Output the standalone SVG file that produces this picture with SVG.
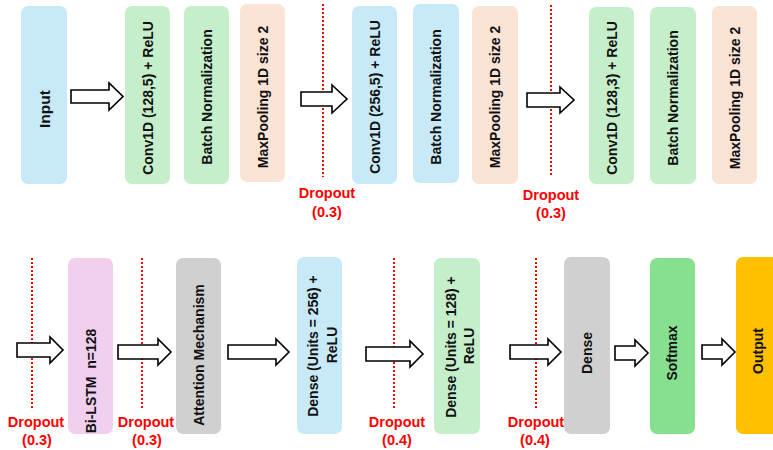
<svg xmlns="http://www.w3.org/2000/svg" width="773" height="450" viewBox="0 0 773 450">
<style>
.box{stroke:none}
.blue{fill:#C8EAF8}
.green{fill:#C5EFCB}
.peach{fill:#FBE3D6}
.pink{fill:#F1CFEF}
.gray{fill:#D0D0D0}
.soft{fill:#87E08F}
.out{fill:#FFC000}
.lbl{font-family:"Liberation Sans",Arial,sans-serif;font-weight:bold;font-size:14px;fill:#111;text-anchor:middle;dominant-baseline:central}
.drop{font-family:"Liberation Sans",Arial,sans-serif;font-weight:bold;font-size:14.5px;fill:#FF0000;text-anchor:middle;dominant-baseline:central}
.dl{stroke:#FF0000;stroke-width:2;stroke-dasharray:2 2;fill:none}
.arr{fill:#fff;stroke:#000;stroke-width:1.6;stroke-linejoin:miter}
</style>
<rect width="773" height="450" fill="#fff"/>

<g id="dropouts">
<line class="dl" x1="323" y1="4" x2="323" y2="177"/>
<text class="drop" x="327" y="193">Dropout</text><text class="drop" x="327" y="212">(0.3)</text>
<line class="dl" x1="551" y1="5" x2="551" y2="177"/>
<text class="drop" x="551" y="195">Dropout</text><text class="drop" x="551" y="213">(0.3)</text>
<line class="dl" x1="32" y1="258" x2="32" y2="408"/>
<text class="drop" x="36" y="422">Dropout</text><text class="drop" x="37" y="440">(0.3)</text>
<line class="dl" x1="142" y1="258" x2="142" y2="408"/>
<text class="drop" x="146" y="422">Dropout</text><text class="drop" x="147" y="440">(0.3)</text>
<line class="dl" x1="394" y1="258" x2="394" y2="408"/>
<text class="drop" x="397" y="422">Dropout</text><text class="drop" x="397" y="440">(0.4)</text>
<line class="dl" x1="536" y1="258" x2="536" y2="408"/>
<text class="drop" x="536" y="422">Dropout</text><text class="drop" x="535" y="440">(0.4)</text>
</g>

<g id="connectors">
<path class="arr" d="M71,90 H109 V83 L123,96.5 L109,110 V103 H71 Z"/>
<path class="arr" d="M301,92 H332 V85 L347,99 L332,113 V106 H301 Z"/>
<path class="arr" d="M527,93 H560 V87 L574,100 L560,113 V107 H527 Z"/>
<path class="arr" d="M17,343 H50 V337 L63,350 L50,363 V357 H17 Z"/>
<path class="arr" d="M118,345 H158 V339 L171,352 L158,365 V359 H118 Z"/>
<path class="arr" d="M228,345 H276 V339 L289,352 L276,365 V359 H228 Z"/>
<path class="arr" d="M366,347 H410 V341 L423,354 L410,367 V361 H366 Z"/>
<path class="arr" d="M510,345 H548 V339 L561,352 L548,365 V359 H510 Z"/>
<path class="arr" d="M615,346 H635 V340 L648,353 L635,366 V360 H615 Z"/>
<path class="arr" d="M702,345 H722 V339 L735,352 L722,365 V359 H702 Z"/>
</g>

<g id="input"><rect class="box blue" x="21" y="6" width="46" height="178" rx="7"/>
<text class="lbl" style="font-size:15.5px" transform="translate(44,109) rotate(-90)">Input</text></g>
<g id="conv1"><rect class="box green" x="125" y="6" width="45" height="178" rx="7"/>
<text class="lbl" transform="translate(148,98) rotate(-90)">Conv1D (128,5) + ReLU</text></g>
<g id="bn1"><rect class="box green" x="184" y="6" width="45" height="178" rx="7"/>
<text class="lbl" transform="translate(207,97) rotate(-90)">Batch Normalization</text></g>
<g id="mp1"><rect class="box peach" x="240" y="4" width="45" height="178" rx="7"/>
<text class="lbl" transform="translate(263,97) rotate(-90)">MaxPooling 1D size 2</text></g>
<g id="conv2"><rect class="box blue" x="352" y="6" width="45" height="178" rx="7"/>
<text class="lbl" transform="translate(375,97) rotate(-90)">Conv1D (256,5) + ReLU</text></g>
<g id="bn2"><rect class="box blue" x="413" y="4" width="46" height="179" rx="7"/>
<text class="lbl" transform="translate(436,97) rotate(-90)">Batch Normalization</text></g>
<g id="mp2"><rect class="box peach" x="472" y="6" width="46" height="178" rx="7"/>
<text class="lbl" transform="translate(495,97) rotate(-90)">MaxPooling 1D size 2</text></g>
<g id="conv3"><rect class="box green" x="589" y="7" width="45" height="177" rx="7"/>
<text class="lbl" transform="translate(612,98) rotate(-90)">Conv1D (128,3) + ReLU</text></g>
<g id="bn3"><rect class="box green" x="650" y="7" width="46" height="177" rx="7"/>
<text class="lbl" transform="translate(673,98) rotate(-90)">Batch Normalization</text></g>
<g id="mp3"><rect class="box peach" x="712" y="6" width="45" height="178" rx="7"/>
<text class="lbl" transform="translate(735,98) rotate(-90)">MaxPooling 1D size 2</text></g>

<g id="bilstm"><rect class="box pink" x="68" y="258" width="45" height="176" rx="7"/>
<text class="lbl" transform="translate(91,381) rotate(-90)" xml:space="preserve">Bi-LSTM  n=128</text></g>
<g id="attention"><rect class="box gray" x="176" y="258" width="45" height="176" rx="7"/>
<text class="lbl" transform="translate(199,355) rotate(-90)">Attention Mechanism</text></g>
<g id="dense256"><rect class="box blue" x="297" y="257" width="45" height="177" rx="7"/>
<text class="lbl" transform="translate(313,346) rotate(-90)">Dense (Units = 256) +</text>
<text class="lbl" transform="translate(332,345) rotate(-90)">ReLU</text></g>
<g id="dense128"><rect class="box green" x="434" y="258" width="46" height="176" rx="7"/>
<text class="lbl" transform="translate(451,347) rotate(-90)">Dense (Units = 128) +</text>
<text class="lbl" transform="translate(469,346) rotate(-90)">ReLU</text></g>
<g id="dense"><rect class="box gray" x="564" y="257" width="46" height="177" rx="7"/>
<text class="lbl" transform="translate(587,353) rotate(-90)">Dense</text></g>
<g id="softmax"><rect class="box soft" x="650" y="258" width="45" height="176" rx="7"/>
<text class="lbl" transform="translate(672,353) rotate(-90)">Softmax</text></g>
<g id="output"><rect class="box out" x="736" y="257" width="46" height="177" rx="7"/>
<text class="lbl" transform="translate(758,351) rotate(-90)">Output</text></g>
</svg>
